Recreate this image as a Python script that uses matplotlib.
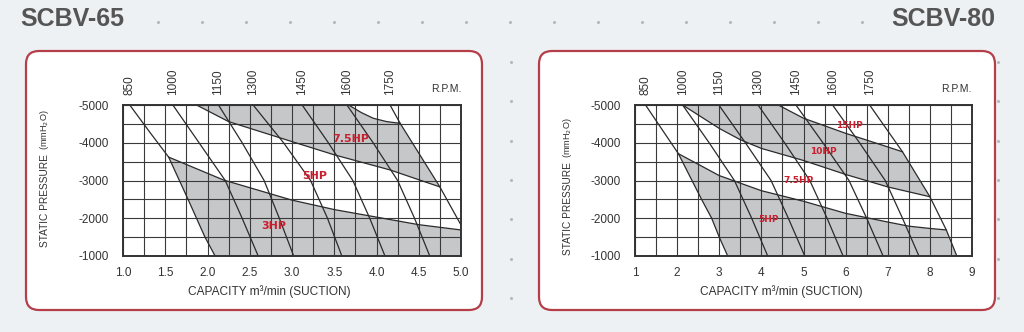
import numpy as np
import matplotlib.pyplot as plt
from matplotlib.patches import FancyBboxPatch

plt.rcParams['font.family'] = ['Liberation Sans', 'DejaVu Sans']
plt.rcParams['axes.unicode_minus'] = False

# ---------------- SCBV-65 ----------------
rpm_65 = [850, 1000, 1150, 1300, 1450, 1600, 1750]
# capacity (m3/min) / static pressure (mmH2O) along each rpm curve
cap_65 = [
    [1.08, 1.31, 1.54, 1.77, 1.87, 1.97, 2.09],
    [1.59, 1.90, 2.21, 2.41, 2.60],
    [2.13, 2.41, 2.67, 2.85, 3.02],
    [2.54, 2.90, 3.22, 3.42, 3.59],
    [3.12, 3.43, 3.72, 3.92, 4.10],
    [3.65, 3.96, 4.25, 4.45, 4.63],
    [4.16, 4.28, 4.75, 5.00],
]
sp_65 = [
    [-5000, -4300, -3620, -2500, -2000, -1500, -1000],
    [-5000, -4000, -3000, -2000, -1000],
    [-5000, -4000, -3000, -2000, -1000],
    [-5000, -4000, -3000, -2000, -1000],
    [-5000, -4000, -3000, -2000, -1000],
    [-5000, -4000, -3000, -2000, -1000],
    [-5000, -4514, -2830, -1820],
]
# motor limit lines
hp3_cap_65 = [1.54, 2.19, 3.00, 3.50, 4.00, 4.50, 5.00]
hp3_sp_65 = [-3620, -3013, -2480, -2230, -2030, -1830, -1690]
hp5_cap_65 = [1.87, 2.25, 3.00, 3.50, 4.16, 4.75]
hp5_sp_65 = [-5000, -4560, -4030, -3680, -3280, -2830]
hp75_cap_65 = [3.67, 3.82, 3.96, 4.12, 4.28]
hp75_sp_65 = [-5000, -4800, -4650, -4560, -4514]
hp_text_65 = ['3HP', '5HP', '7.5HP']
hp_text_x_65 = [2.78, 3.27, 3.70]
hp_text_y_65 = [-1800, -3120, -4100]

# ---------------- SCBV-80 ----------------
rpm_80 = [850, 1000, 1150, 1300, 1450, 1600, 1750]
cap_80 = [
    [1.25, 2.03, 2.58, 2.82, 3.00, 3.20],
    [2.13, 2.76, 3.36, 3.77, 4.15],
    [2.99, 3.62, 4.23, 4.64, 5.03],
    [3.92, 4.55, 5.15, 5.56, 5.94],
    [4.82, 5.46, 6.08, 6.50, 6.89],
    [5.69, 6.33, 6.94, 7.35, 7.74],
    [6.57, 7.35, 8.00, 8.39, 8.64],
]
sp_80 = [
    [-5000, -3710, -2500, -2000, -1500, -1000],
    [-5000, -4000, -3000, -2000, -1000],
    [-5000, -4000, -3000, -2000, -1000],
    [-5000, -4000, -3000, -2000, -1000],
    [-5000, -4000, -3000, -2000, -1000],
    [-5000, -4000, -3000, -2000, -1000],
    [-5000, -3760, -2570, -1690, -1000],
]
hp5_cap_80 = [2.03, 2.50, 3.00, 3.50, 4.00, 5.00, 6.00, 7.00, 7.50, 8.00, 8.39]
hp5_sp_80 = [-3710, -3430, -3130, -2930, -2730, -2450, -2130, -1900, -1790, -1730, -1690]
hp10_cap_80 = [2.13, 3.00, 3.50, 4.00, 5.00, 6.00, 7.00, 8.00]
hp10_sp_80 = [-5000, -4380, -4080, -3850, -3530, -3160, -2830, -2570]
hp15_cap_80 = [4.40, 5.00, 6.00, 7.00, 7.35]
hp15_sp_80 = [-5000, -4650, -4250, -3890, -3760]
hp_text_80 = ['5HP', '7.5HP', '10HP', '15HP']
hp_text_x_80 = [4.16, 4.88, 5.47, 6.10]
hp_text_y_80 = [-1980, -2995, -3763, -4470]

line_col = '#2b2b2b'
shade_col = '#c6c7c9'
red = '#c8202f'

fig = plt.figure(figsize=(10.24, 3.32), dpi=100)
fig.patch.set_facecolor('#eef1f4')

# background layer in pixel units
bg = fig.add_axes([0, 0, 1, 1])
bg.set_xlim(0, 1024)
bg.set_ylim(332, 0)
bg.axis('off')

dot_x = np.arange(158, 870, 44)
bg.scatter(dot_x, np.full(len(dot_x), 22), s=5, color='#b5b8bd', lw=0)
dot_y = np.arange(62, 300, 39.3)
for dx in [26, 511, 998]:
    bg.scatter(np.full(len(dot_y), dx), dot_y, s=5, color='#b5b8bd', lw=0)

for px in [26, 539]:
    bg.add_patch(FancyBboxPatch((px, 51), 456, 259,
                                boxstyle='round,pad=0,rounding_size=13',
                                fc='white', ec='#b53f49', lw=1.6))

bg.text(20, 19, 'SCBV-65', fontsize=18, fontweight='bold', color='#555555',
        ha='left', va='center')
bg.text(995, 19, 'SCBV-80', fontsize=18, fontweight='bold', color='#555555',
        ha='right', va='center')

for lx, ybot, cx in [(45, 247, 269), (568, 255, 781)]:
    bg.text(lx, ybot, 'STATIC PRESSURE', rotation=90, fontsize=7.3,
            color='#333333', ha='center', va='bottom')
    bg.text(lx - 0.5, ybot - 97, '(mmH$_2$O)', rotation=90, fontsize=6.6,
            color='#333333', ha='center', va='bottom')
    bg.text(cx, 292, 'CAPACITY m³/min (SUCTION)', fontsize=8.6,
            color='#333333', ha='center', va='center')


def setup(ax, xmin, xmax, major, minor):
    ax.set_xlim(xmin, xmax)
    ax.set_ylim(-1000, -5000)
    ax.set_xticks(np.arange(xmin, xmax + 0.01, major))
    ax.set_xticks(np.arange(xmin, xmax + 0.01, minor), minor=True)
    ax.set_yticks([-5000, -4000, -3000, -2000, -1000])
    ax.set_yticks(np.arange(-5000, -999, 500), minor=True)
    ax.grid(True, which='both', color='#3a3a3a', lw=0.8)
    ax.tick_params(which='both', length=0, labelsize=8.5, colors='#333333')
    ax.tick_params(axis='y', pad=10.5)
    ax.tick_params(axis='x', pad=8)
    for s in ax.spines.values():
        s.set_linewidth(1.4)
        s.set_color('#333333')


def rpm_labels(ax, caps, rpms):
    tr = ax.get_xaxis_transform()
    for c, r in zip(caps, rpms):
        ax.text(c[0], 1.065, str(r), transform=tr, rotation=90, fontsize=8.5,
                color='#333333', ha='center', va='bottom')
    ax.text(1.0, 1.075, 'R.P.M.', transform=ax.transAxes, fontsize=7.5,
            color='#333333', ha='right', va='bottom')


# ---- left chart ----
ax1 = fig.add_axes([123 / 1024, 76 / 332, 338 / 1024, 151 / 332])
setup(ax1, 1.0, 5.0, 0.5, 0.25)
ax1.xaxis.set_major_formatter(plt.FormatStrFormatter('%.1f'))

low_x = cap_65[0][2:] + [5.0] + hp3_cap_65[::-1]
low_y = sp_65[0][2:] + [-1000] + hp3_sp_65[::-1]
ax1.fill(low_x, low_y, color=shade_col, lw=0)
up_x = hp5_cap_65 + cap_65[6][2:0:-1] + hp75_cap_65[::-1]
up_y = hp5_sp_65 + sp_65[6][2:0:-1] + hp75_sp_65[::-1]
ax1.fill(up_x, up_y, color=shade_col, lw=0)

for c, p in zip(cap_65, sp_65):
    ax1.plot(c, p, color=line_col, lw=0.9)
for c, p in [(hp3_cap_65, hp3_sp_65), (hp5_cap_65, hp5_sp_65),
             (hp75_cap_65, hp75_sp_65)]:
    ax1.plot(c, p, color=line_col, lw=0.9)
for t, x, y in zip(hp_text_65, hp_text_x_65, hp_text_y_65):
    ax1.text(x, y, t, fontsize=8, fontweight='bold', color=red,
             ha='center', va='center', family=['DejaVu Sans'])
rpm_labels(ax1, cap_65, rpm_65)

# ---- right chart ----
ax2 = fig.add_axes([635 / 1024, 76 / 332, 337 / 1024, 151 / 332])
setup(ax2, 1, 9, 1, 0.5)
ax2.xaxis.set_major_formatter(plt.FormatStrFormatter('%d'))

low_x = cap_80[0][1:] + cap_80[6][:2:-1] + hp5_cap_80[::-1]
low_y = sp_80[0][1:] + sp_80[6][:2:-1] + hp5_sp_80[::-1]
ax2.fill(low_x, low_y, color=shade_col, lw=0)
up_x = hp10_cap_80 + [cap_80[6][1]] + hp15_cap_80[::-1]
up_y = hp10_sp_80 + [sp_80[6][1]] + hp15_sp_80[::-1]
ax2.fill(up_x, up_y, color=shade_col, lw=0)

for c, p in zip(cap_80, sp_80):
    ax2.plot(c, p, color=line_col, lw=0.9)
for c, p in [(hp5_cap_80, hp5_sp_80), (hp10_cap_80, hp10_sp_80),
             (hp15_cap_80, hp15_sp_80)]:
    ax2.plot(c, p, color=line_col, lw=0.9)
for t, x, y in zip(hp_text_80, hp_text_x_80, hp_text_y_80):
    ax2.text(x, y, t, fontsize=6.5, fontweight='bold', color=red,
             ha='center', va='center', family=['DejaVu Sans'])
rpm_labels(ax2, cap_80, rpm_80)

fig.savefig('out.png', dpi=100, facecolor=fig.get_facecolor())
